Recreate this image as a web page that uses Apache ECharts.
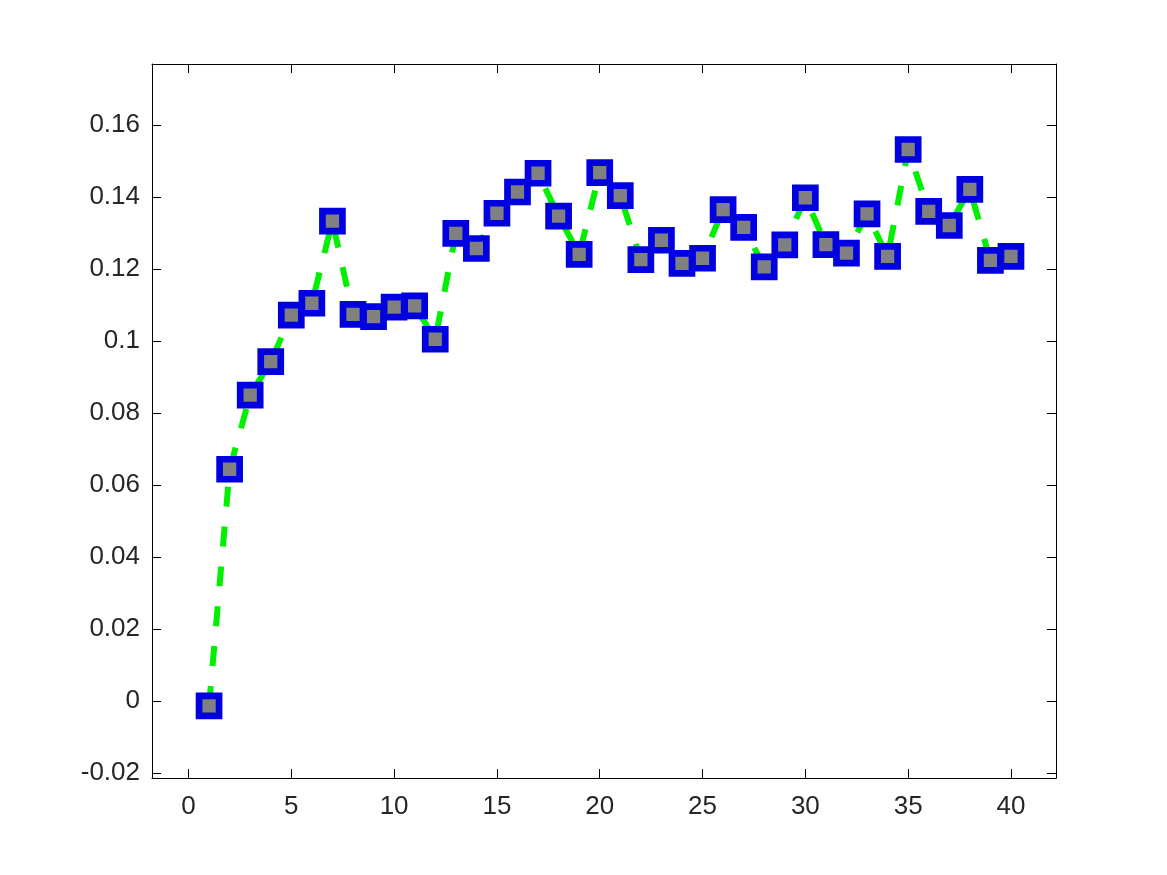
<!DOCTYPE html>
<html>
<head>
<meta charset="utf-8">
<script src="https://cdn.jsdelivr.net/npm/echarts@6/dist/echarts.min.js"></script>
<style>
  html, body { margin: 0; padding: 0; background: #fff; }
  #chart { width: 1167px; height: 875px; }
</style>
</head>
<body>
<div id="chart"></div>
<script>
const xValues = [1, 2, 3, 4, 5, 6, 7, 8, 9, 10, 11, 12, 13, 14, 15, 16, 17, 18, 19, 20,
  21, 22, 23, 24, 25, 26, 27, 28, 29, 30, 31, 32, 33, 34, 35, 36, 37, 38, 39, 40];
const yValues = [-0.0013, 0.0644, 0.085, 0.0943, 0.1072, 0.1105, 0.1333, 0.1074, 0.1068, 0.1094,
  0.1098, 0.1005, 0.1299, 0.1257, 0.1355, 0.1414, 0.1466, 0.1347, 0.1241, 0.1468,
  0.1404, 0.1226, 0.1280, 0.1216, 0.1230, 0.1365, 0.1316, 0.1206, 0.1267, 0.1398,
  0.1268, 0.1244, 0.1353, 0.1235, 0.1532, 0.1360, 0.1321, 0.1421, 0.1224, 0.1235];
const xTicks = [0, 5, 10, 15, 20, 25, 30, 35, 40];
const yTicks = [-0.02, 0, 0.02, 0.04, 0.06, 0.08, 0.1, 0.12, 0.14, 0.16];

const chart = echarts.init(document.getElementById("chart"));

const xMin = -1.775, xMax = 42.19;
const yMin = -0.02133, yMax = 0.17694;
const font = "Liberation Sans";

const xBase = (pos, showLabel) => ({
  type: "value",
  position: pos,
  min: xMin,
  max: xMax,
  axisLine: { show: true, onZero: false, lineStyle: { color: "#000", width: 1 } },
  axisTick: { show: true, inside: true, length: 9, customValues: xTicks, lineStyle: { color: "#000" } },
  axisLabel: {
    show: showLabel,
    customValues: xTicks,
    margin: 16,
    color: "#262626",
    fontSize: 26,
    fontFamily: font,
  },
  splitLine: { show: false },
});

const yBase = (pos, showLabel) => ({
  type: "value",
  position: pos,
  min: yMin,
  max: yMax,
  axisLine: { show: true, onZero: false, lineStyle: { color: "#000", width: 1 } },
  axisTick: { show: true, inside: true, length: 9, customValues: yTicks, lineStyle: { color: "#000" } },
  axisLabel: {
    show: showLabel,
    customValues: yTicks,
    margin: 12,
    color: "#262626",
    fontSize: 26,
    fontFamily: font,
    formatter: (v) => String(+v.toFixed(2)),
  },
  splitLine: { show: false },
});

const option = {
  animation: false,
  backgroundColor: "#fff",
  grid: { left: 152, top: 64, width: 904, height: 714, containLabel: false },
  xAxis: [xBase("bottom", true), xBase("top", false)],
  yAxis: [yBase("left", true), yBase("right", false)],
  series: [
    {
      type: "line",
      xAxisIndex: 0,
      yAxisIndex: 0,
      data: xValues.map((x, i) => [x, yValues[i]]),
      lineStyle: { color: "#00f000", width: 6, type: [20, 20], cap: "butt" },
      symbol: "rect",
      symbolSize: 20,
      itemStyle: { color: "#808080", borderColor: "#0000e0", borderWidth: 6.7 },
      emphasis: { disabled: true },
    },
  ],
};

chart.setOption(option);
</script>
</body>
</html>
